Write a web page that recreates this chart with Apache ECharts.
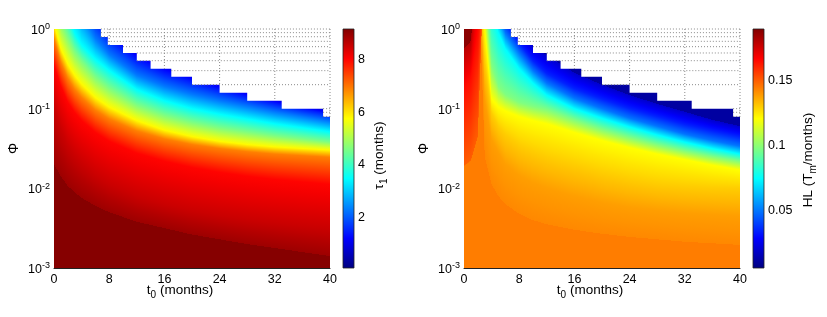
<!DOCTYPE html>
<html><head><meta charset="utf-8">
<script src="https://cdn.jsdelivr.net/npm/echarts@6/dist/echarts.min.js"></script>
<style>html,body{margin:0;padding:0;background:#fff}#c{width:827px;height:317px}</style>
</head><body><div id="c"></div>
<script>
// ================= DATA =================
const xTicks = [0, 8, 16, 24, 32, 40];
// staircase edge of the computed region (same in both panels): rows of log10(Phi)
const maskRowTopLogPhi = [0, -0.1, -0.2, -0.3, -0.4, -0.5, -0.6, -0.7, -0.8, -0.9, -1.0];
const maskRowMaxT0     = [6.8, 7.8, 10, 12, 14, 17, 20, 24, 28, 33, 39];
const maskLowestLogPhi = -1.1;

// ---- left panel: tau_1 (months); contour lines as log10(Phi) at t0 samples
const tauT0 = [0, 1, 2, 3, 4, 6, 8, 12, 16, 20, 24, 28, 32, 36, 40];
const tauLevels = [1.0, 1.5, 2.3, 3.5, 4.6, 5.8, 6.9, 8.0, 8.5, 8.9];
const tau_c1_0 = [1, 1, 1, 1, 1, 0.3, 0.0, -0.28, -0.45, -0.58, -0.69, -0.79, -0.88, -0.96, -1.03];
const tau_c1_5 = [1, 1, 1, 1, 0.6, 0.12, -0.12, -0.4, -0.56, -0.67, -0.77, -0.86, -0.94, -1.01, -1.07];
const tau_c2_3 = [1, 1, 1, 0.55, 0.2, -0.12, -0.32, -0.58, -0.72, -0.82, -0.9, -0.97, -1.04, -1.1, -1.16];
const tau_c3_5 = [0.9, 0.5, 0.2, -0.05, -0.2, -0.38, -0.52, -0.76, -0.9, -1.0, -1.07, -1.13, -1.19, -1.24, -1.29];
const tau_c4_6 = [0.6, 0.1, -0.1, -0.28, -0.4, -0.6, -0.74, -0.95, -1.08, -1.17, -1.24, -1.29, -1.34, -1.38, -1.42];
const tau_c5_8 = [0.05, -0.25, -0.44, -0.58, -0.69, -0.86, -0.98, -1.15, -1.27, -1.35, -1.41, -1.45, -1.48, -1.5, -1.52];
const tau_c6_9 = [-0.12, -0.42, -0.62, -0.76, -0.86, -1.02, -1.13, -1.28, -1.38, -1.45, -1.5, -1.54, -1.57, -1.59, -1.61];
const tau_c8_0 = [-0.45, -0.72, -0.92, -1.05, -1.15, -1.3, -1.41, -1.56, -1.66, -1.74, -1.8, -1.85, -1.89, -1.92, -1.95];
const tau_c8_5 = [-0.95, -1.25, -1.45, -1.58, -1.68, -1.84, -1.95, -2.1, -2.2, -2.28, -2.34, -2.39, -2.43, -2.47, -2.5];
const tau_c8_9 = [-1.7, -1.85, -1.97, -2.05, -2.12, -2.22, -2.3, -2.42, -2.5, -2.58, -2.64, -2.7, -2.75, -2.8, -2.85];
const tauAboveFirst = 0.8;
const tauBelowLast = 9.1;
const tauRange = [0.095, 9.16];
const tauBarTicks = [2, 4, 6, 8];

// ---- right panel: HL (T_m/months)
const hlT0 = [0, 1, 2, 3, 4, 5, 6, 8, 10, 12, 16, 20, 24, 28, 32, 36, 40];
const hlLevels = [0.02, 0.035, 0.05, 0.075, 0.098, 0.121, 0.130, 0.1385, 0.1425];
const hl_a0 = [1, 1, 1, 1, 1, 1, 1, 0.0, -0.2, -0.33, -0.55, -0.7, -0.83, -0.94, -1.04, -1.14, -1.22];
const hl_a1 = [1, 1, 1, 1, 1, 1, 0.1, -0.18, -0.4, -0.56, -0.75, -0.88, -1.0, -1.1, -1.2, -1.28, -1.35];
const hl_a2 = [1, 1, 1, 1, 1, 0.2, -0.05, -0.3, -0.52, -0.68, -0.87, -1.0, -1.12, -1.22, -1.32, -1.4, -1.47];
const hl_a3 = [1, 1, 1, 1, 0.25, -0.05, -0.25, -0.5, -0.68, -0.83, -1.0, -1.12, -1.23, -1.33, -1.42, -1.5, -1.57];
const hl_a4 = [1, 1, 1, 0.5, -0.45, -0.72, -0.82, -0.92, -0.97, -1.01, -1.14, -1.26, -1.36, -1.45, -1.53, -1.6, -1.66];
const hl_a5 = [1, 1, 1, 0, -0.88, -0.98, -1.03, -1.1, -1.15, -1.19, -1.3, -1.4, -1.49, -1.57, -1.64, -1.71, -1.77];
const hl_a6 = [1, 1, 1, -0.4, -1.05, -1.22, -1.32, -1.45, -1.53, -1.6, -1.7, -1.8, -1.88, -1.94, -1.97, -1.99, -2.0];
const hl_a7 = [1, 1, 1, -0.9, -1.39, -1.55, -1.7, -1.84, -1.93, -2.0, -2.1, -2.18, -2.24, -2.28, -2.31, -2.33, -2.35];
const hl_a8 = [1, 1, 1, -1.6, -1.95, -2.1, -2.2, -2.32, -2.4, -2.45, -2.52, -2.57, -2.61, -2.64, -2.67, -2.69, -2.71];
const hlAboveFirst = 0.012;
const hlBelowLast = 0.1445;
// red lobe in the upper-left corner (values rise towards Phi = 1, t0 = 0), listed outer -> inner
const hlLobeLevels = [0.150, 0.165, 0.18];
const hl_b0 = [-1.72, -1.65, -1.35, 1, 1, 1, 1, 1, 1, 1, 1, 1, 1, 1, 1, 1, 1];
const hl_b1 = [-0.75, -0.62, -0.05, 1, 1, 1, 1, 1, 1, 1, 1, 1, 1, 1, 1, 1, 1];
const hl_b2 = [-0.25, -0.15, 1, 1, 1, 1, 1, 1, 1, 1, 1, 1, 1, 1, 1, 1, 1];
const hlLobeCore = 0.188;
const hlRange = [0.006, 0.19];
const hlBarTicks = [0.05, 0.1, 0.15];

// ================= RENDERING =================
const FONT = '"Liberation Sans", Arial, Helvetica, sans-serif';
const GRID_COLOR = '#8a8a8a';

function clamp01(x) { return Math.max(0, Math.min(1, x)); }
function jet(f) {
  f = clamp01(f);
  return [clamp01(1.5 - Math.abs(4 * f - 3)), clamp01(1.5 - Math.abs(4 * f - 2)), clamp01(1.5 - Math.abs(4 * f - 1))];
}
function rgb(f) {
  const c = jet(f);
  return 'rgb(' + Math.round(c[0] * 255) + ',' + Math.round(c[1] * 255) + ',' + Math.round(c[2] * 255) + ')';
}

// colour stops for one pixel column; ys ascending (downwards), value piecewise linear between contours
function columnStops(ys, vs, vAbove, vBelow, ya, yb, norm) {
  const nodes = [{ y: ys[0], v: vAbove }];
  for (let k = 0; k < ys.length; k++) nodes.push({ y: ys[k], v: vs[k] });
  nodes.push({ y: ys[ys.length - 1], v: vBelow });
  const valAt = y => {
    if (y <= nodes[0].y) return vAbove;
    if (y >= nodes[nodes.length - 1].y) return vBelow;
    for (let i = 0; i < nodes.length - 1; i++) {
      const a = nodes[i], b = nodes[i + 1];
      if (y <= b.y) return (b.y - a.y < 1e-9) ? b.v : a.v + (b.v - a.v) * (y - a.y) / (b.y - a.y);
    }
    return vBelow;
  };
  const H = yb - ya;
  const stops = [];
  const push = (y, v) => stops.push({ offset: clamp01((y - ya) / H), color: rgb(norm(v)) });
  let pY = ya, pV = valAt(ya);
  push(pY, pV);
  const toward = (y, v) => {
    if (Math.abs(v - pV) > 1e-9 && y - pY > 1.5) {
      for (let k = 1; k < 4; k++) push(pY + (y - pY) * k / 4, pV + (v - pV) * k / 4);
    }
    push(y, v); pY = y; pV = v;
  };
  nodes.forEach(nd => { if (nd.y > ya && nd.y < yb) toward(nd.y, nd.v); });
  toward(yb, valAt(yb));
  return stops;
}

function fieldSeries(ax, T, down, lobe, range) {
  const norm = v => (v - range[0]) / (range[1] - range[0]);
  return {
    type: 'custom', xAxisIndex: ax, yAxisIndex: ax, clip: true, silent: true, z: 2,
    data: [[T[0], 1]],
    renderItem(params, api) {
      const tl = api.coord([0, 1]), br = api.coord([40, 0.001]);
      const ytop = tl[1], ybot = br[1];
      const poly = c => T.map((t, j) => api.coord([t, Math.pow(10, c[j])]));
      const yAt = (pts, x) => {
        for (let j = 0; j < pts.length - 1; j++) {
          if (x <= pts[j + 1][0] || j === pts.length - 2) {
            const a = pts[j], b = pts[j + 1];
            return a[1] + (b[1] - a[1]) * (x - a[0]) / (b[0] - a[0]);
          }
        }
      };
      const dP = down.contours.map(poly);
      const lP = lobe ? lobe.contours.map(poly).reverse() : null;   // inner -> outer (top -> down)
      const lV = lobe ? lobe.levels.slice().reverse() : null;
      const kids = [];
      for (let px = Math.floor(tl[0]); px < Math.ceil(br[0]); px++) {
        const xc = px + 0.5;
        const ys = dP.map(p => yAt(p, xc));
        for (let k = 1; k < ys.length; k++) ys[k] = Math.max(ys[k], ys[k - 1]);
        kids.push({ type: 'rect', shape: { x: px, y: ytop, width: 1, height: ybot - ytop },
          style: { fill: { type: 'linear', x: 0, y: 0, x2: 0, y2: 1,
            colorStops: columnStops(ys, down.levels, down.above, down.below, ytop, ybot, norm) } } });
        if (lobe) {
          const ly = lP.map(p => yAt(p, xc));
          for (let k = 1; k < ly.length; k++) ly[k] = Math.max(ly[k], ly[k - 1]);
          const yOuter = Math.min(ly[ly.length - 1], ybot);
          if (yOuter > ytop + 0.05) {
            kids.push({ type: 'rect', shape: { x: px, y: ytop, width: 1, height: yOuter - ytop },
              style: { fill: { type: 'linear', x: 0, y: 0, x2: 0, y2: 1,
                colorStops: columnStops(ly, lV, lobe.core, lV[lV.length - 1], ytop, yOuter, norm) } } });
          }
        }
      }
      return { type: 'group', children: kids };
    }
  };
}

function rowBottom(k) { return k + 1 < maskRowTopLogPhi.length ? maskRowTopLogPhi[k + 1] : maskLowestLogPhi; }

function maskSeries(ax) {
  return {
    type: 'custom', xAxisIndex: ax, yAxisIndex: ax, silent: true, z: 3, clip: true,
    data: [[40, 1]],
    renderItem(params, api) {
      const P = (t, l) => api.coord([t, Math.pow(10, l)]);
      const pts = [];
      const tr = P(40, 0); pts.push([tr[0] + 2, tr[1] - 2]);
      const tl = P(maskRowMaxT0[0], 0); pts.push([tl[0], tl[1] - 2]);
      for (let k = 0; k < maskRowMaxT0.length; k++) {
        pts.push(P(maskRowMaxT0[k], maskRowTopLogPhi[k]));
        pts.push(P(maskRowMaxT0[k], rowBottom(k)));
      }
      const br = P(40, maskLowestLogPhi); pts.push([br[0] + 2, br[1]]);
      return { type: 'polygon', shape: { points: pts }, style: { fill: '#fff' } };
    }
  };
}

function gridLineSeries(ax) {
  return {
    type: 'custom', xAxisIndex: ax, yAxisIndex: ax, silent: true, z: 4,
    data: [[40, 1]],
    renderItem(params, api) {
      const P = (t, l) => api.coord([t, Math.pow(10, l)]);
      const kids = [];
      const seg = (a, b) => kids.push({ type: 'line', shape: { x1: a[0], y1: a[1], x2: b[0], y2: b[1] },
        style: { stroke: GRID_COLOR, lineWidth: 1, lineDash: [1, 2] } });
      for (let e = 0; e >= -3; e--) {
        for (let m = 1; m <= 9; m++) {
          const lg = Math.log10(m) + e;
          if (lg > 1e-9) continue;
          let row = -1;
          for (let k = 0; k < maskRowTopLogPhi.length; k++)
            if (lg <= maskRowTopLogPhi[k] + 1e-9 && lg > rowBottom(k) + 1e-9) row = k;
          if (row < 0) continue;
          seg(P(maskRowMaxT0[row], lg), P(40, lg));
        }
      }
      xTicks.forEach(x => {
        if (x <= 0) return;
        let bottom = 0;
        for (let k = 0; k < maskRowMaxT0.length; k++) if (maskRowMaxT0[k] < x) bottom = rowBottom(k);
        if (bottom < 0) seg(P(x, 0), P(x, bottom));
      });
      return { type: 'group', children: kids };
    }
  };
}

function colorbarSeries(ax, range) {
  return {
    type: 'custom', xAxisIndex: ax, yAxisIndex: ax, silent: true, z: 2,
    data: [[0, range[0]]],
    renderItem(params, api) {
      const p0 = api.coord([0, range[0]]), p1 = api.coord([1, range[1]]);
      const knots = [0, 0.125, 0.375, 0.625, 0.875, 1];
      return {
        type: 'rect',
        shape: { x: p0[0], y: p1[1], width: p1[0] - p0[0], height: p0[1] - p1[1] },
        style: {
          fill: { type: 'linear', x: 0, y: 1, x2: 0, y2: 0, colorStops: knots.map(f => ({ offset: f, color: rgb(f) })) },
          stroke: '#222', lineWidth: 0.8
        }
      };
    }
  };
}

const txt = { fontFamily: FONT, color: '#000' };
function plotX(gi) {
  return {
    gridIndex: gi, type: 'value', min: 0, max: 40, interval: 8, z: 10,
    axisLine: { show: true, onZero: false, lineStyle: { color: '#222', width: 1 } },
    axisTick: { show: false }, splitLine: { show: false },
    axisLabel: Object.assign({ fontSize: 12.5, margin: 5 }, txt),
    name: '{t|t}{s|0}{t| (months)}', nameLocation: 'middle', nameGap: 15, nameMoveOverlap: false,
    nameTextStyle: Object.assign({ fontSize: 13, padding: [0, 24, 0, 0], rich: {
      t: Object.assign({ fontSize: 13.5, verticalAlign: 'top' }, txt),
      s: Object.assign({ fontSize: 10, padding: [7, 0, 0, 0], verticalAlign: 'top' }, txt)
    } }, txt)
  };
}
function plotY(gi) {
  return {
    gridIndex: gi, type: 'log', logBase: 10, min: 0.001, max: 1,
    axisLine: { show: false }, axisTick: { show: false }, splitLine: { show: false },
    axisLabel: Object.assign({
      margin: 4,
      formatter: v => '{b|10}{s|' + Math.round(Math.log10(v)) + '}',
      rich: {
        b: Object.assign({ fontSize: 12.5, lineHeight: 13, padding: [3, 0, 0, 0] }, txt),
        s: Object.assign({ fontSize: 9, lineHeight: 9, verticalAlign: 'top' }, txt)
      }
    }, txt),
    name: 'Φ', nameLocation: 'middle', nameRotate: 90, nameGap: 33, nameMoveOverlap: false,
    nameTextStyle: Object.assign({ fontSize: 14 }, txt)
  };
}
function barY(gi, range, ticks, name, gap, pad) {
  return {
    gridIndex: gi, type: 'value', min: range[0], max: range[1], position: 'right',
    axisLine: { show: false }, splitLine: { show: false },
    axisTick: { show: true, length: 3, customValues: ticks, lineStyle: { color: '#000', width: 1 } },
    axisLabel: Object.assign({ fontSize: 12.5, margin: 4, customValues: ticks, formatter: v => String(v) }, txt),
    name: name, nameLocation: 'middle', nameRotate: 90, nameGap: gap, nameMoveOverlap: false,
    nameTextStyle: Object.assign({ fontSize: 13.5, padding: [0, pad, 0, 0], rich: {
      t: Object.assign({ fontSize: 13.5, verticalAlign: 'top' }, txt),
      s: Object.assign({ fontSize: 10, padding: [7, 0, 0, 0], verticalAlign: 'top' }, txt)
    } }, txt)
  };
}

const tauField = {
  contours: [tau_c1_0, tau_c1_5, tau_c2_3, tau_c3_5, tau_c4_6, tau_c5_8, tau_c6_9, tau_c8_0, tau_c8_5, tau_c8_9],
  levels: tauLevels, above: tauAboveFirst, below: tauBelowLast
};
const hlField = {
  contours: [hl_a0, hl_a1, hl_a2, hl_a3, hl_a4, hl_a5, hl_a6, hl_a7, hl_a8],
  levels: hlLevels, above: hlAboveFirst, below: hlBelowLast
};
const hlLobe = { contours: [hl_b0, hl_b1, hl_b2], levels: hlLobeLevels, core: hlLobeCore };

const chart = echarts.init(document.getElementById('c'), null, { renderer: 'canvas' });
chart.setOption({
  animation: false,
  backgroundColor: '#fff',
  grid: [
    { left: 54, top: 29, width: 276, height: 239 },
    { left: 343, top: 29, width: 11, height: 239 },
    { left: 464, top: 29, width: 276, height: 239 },
    { left: 753, top: 29, width: 11, height: 239 }
  ],
  xAxis: [
    plotX(0),
    { gridIndex: 1, type: 'value', min: 0, max: 1, show: false },
    plotX(2),
    { gridIndex: 3, type: 'value', min: 0, max: 1, show: false }
  ],
  yAxis: [
    plotY(0),
    barY(1, tauRange, tauBarTicks, '{t|τ}{s|1}{t| (months)}', 18, 14),
    plotY(2),
    barY(3, hlRange, hlBarTicks, '{t|HL (T}{s|m}{t|/months)}', 37, 23)
  ],
  series: [
    fieldSeries(0, tauT0, tauField, null, tauRange),
    maskSeries(0),
    gridLineSeries(0),
    colorbarSeries(1, tauRange),
    fieldSeries(2, hlT0, hlField, hlLobe, hlRange),
    maskSeries(2),
    gridLineSeries(2),
    colorbarSeries(3, hlRange)
  ]
});
</script>
</body></html>
